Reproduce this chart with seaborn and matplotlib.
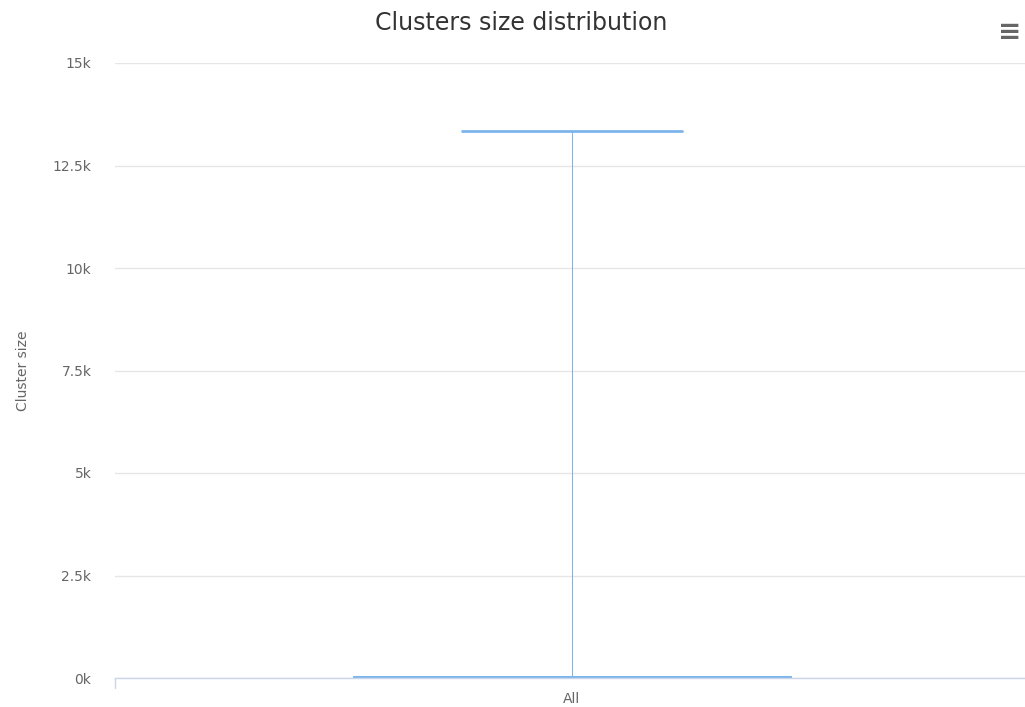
import numpy as np
import pandas as pd
import matplotlib
matplotlib.use('Agg')
import matplotlib.pyplot as plt
from matplotlib.ticker import FuncFormatter, MultipleLocator
import seaborn as sns

# Box statistics (cluster size)
categories = ['All']
low    = [1]
q1     = [3]
median = [8]
q3     = [40]
high   = [13340]

# five points whose min / quartiles / max are the stats above
rows = []
for i, cat in enumerate(categories):
    for v in (low[i], q1[i], median[i], q3[i], high[i]):
        rows.append({'group': cat, 'size': v})
df = pd.DataFrame(rows)

sns.set_theme(style='white')
plt.rcParams['font.family'] = ['DejaVu Sans']

fig = plt.figure(figsize=(10.25, 7.07), dpi=100)
ax = fig.add_axes([115 / 1025, 29 / 707, 914 / 1025, 615 / 707])

blue = '#7cb5ec'
sns.boxplot(data=df, x='group', y='size', ax=ax, whis=(0, 100), width=0.48,
            color='white', linecolor=blue, linewidth=0.75,
            capwidths=0.24,
            capprops={'linewidth': 2.0, 'color': blue},
            medianprops={'linewidth': 1.5, 'color': blue},
            showfliers=False)

ax.set_xlim(-0.5, 0.5)
ax.set_ylim(0, 15000)
ax.yaxis.set_major_locator(MultipleLocator(2500))
ax.yaxis.set_major_formatter(FuncFormatter(lambda v, p: f'{v / 1000:g}k'))
ax.grid(axis='y', color='#e6e6e6', linewidth=1)
ax.set_axisbelow(True)

for s in ['top', 'right', 'left']:
    ax.spines[s].set_visible(False)
ax.spines['bottom'].set_color('#ccd6eb')
ax.spines['bottom'].set_linewidth(1)

ax.tick_params(axis='y', length=0, pad=17, labelsize=10, labelcolor='#666666')
ax.tick_params(axis='x', length=0, pad=10, labelsize=10, labelcolor='#666666')
# category boundary tick at the left edge
ax.plot([-0.5, -0.5], [0, -0.016], transform=ax.get_xaxis_transform(),
        color='#ccd6eb', linewidth=1, clip_on=False)

ax.set_xlabel('')
ax.set_ylabel('Cluster size', fontsize=10, color='#666666', labelpad=16)

fig.text(0.508, 0.968, 'Clusters size distribution', ha='center', va='center',
         fontsize=17, color='#333333')
fig.text(0.985, 0.955, '≡', ha='center', va='center', fontsize=20,
         color='#666666', fontweight='bold')

fig.savefig('out.png', dpi=100)
